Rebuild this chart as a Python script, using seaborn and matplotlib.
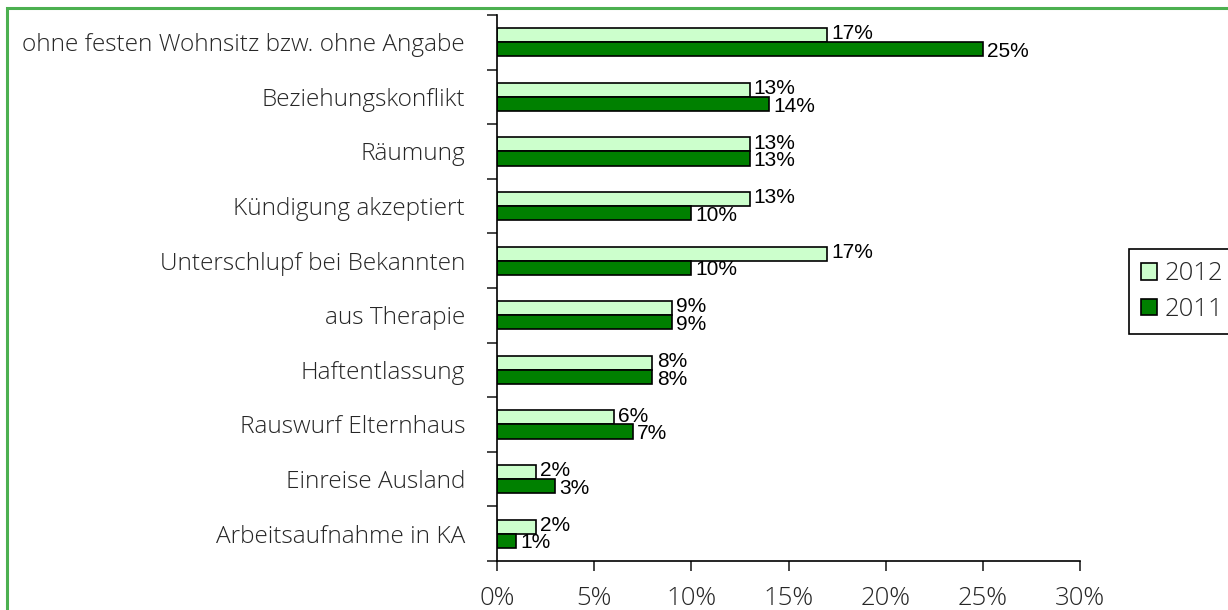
import numpy as np
import pandas as pd
import matplotlib.pyplot as plt
import seaborn as sns
from matplotlib.patches import Rectangle, Patch

# =====================
# Data (values in %)
# =====================
categories = [
    "ohne festen Wohnsitz bzw. ohne Angabe",
    "Beziehungskonflikt",
    "Räumung",
    "Kündigung akzeptiert",
    "Unterschlupf bei Bekannten",
    "aus Therapie",
    "Haftentlassung",
    "Rauswurf Elternhaus",
    "Einreise Ausland",
    "Arbeitsaufnahme in KA",
]
values_2012 = [17, 13, 13, 13, 17, 9, 8, 6, 2, 2]
values_2011 = [25, 14, 13, 10, 10, 9, 8, 7, 3, 1]
years = ["2012", "2011"]
x_ticks = [0, 5, 10, 15, 20, 25, 30]

colors = {"2012": "#CCFFCC", "2011": "#008000"}

df = pd.DataFrame({
    "Kategorie": categories * 2,
    "Jahr": ["2012"] * len(categories) + ["2011"] * len(categories),
    "Wert": values_2012 + values_2011,
})

sns.set_style("white")
plt.rcParams["font.family"] = ["Open Sans", "DejaVu Sans"]
plt.rcParams["font.weight"] = 300

fig = plt.figure(figsize=(12.28, 6.1), dpi=100)
ax = fig.add_axes([497 / 1228, 1 - 561 / 610, 583 / 1228, 546 / 610])

sns.barplot(data=df, y="Kategorie", x="Wert", hue="Jahr", hue_order=years,
            order=categories, orient="h", width=0.52, gap=0,
            palette=colors, edgecolor="black", linewidth=1.2,
            saturation=1, ax=ax)

# data labels next to each bar end (2012 nudged up, 2011 nudged down)
for cont, dy in zip(ax.containers, [1, -1.5]):
    for bar in cont:
        w = bar.get_width()
        yc = bar.get_y() + bar.get_height() / 2
        ax.annotate(f"{w:.0f}%", xy=(w, yc), xytext=(3, dy),
                    textcoords="offset points", ha="left", va="center",
                    fontsize=15, family="Liberation Sans", weight="normal",
                    color="black")

ax.set_xlim(0, 30)
ax.set_ylim(len(categories) - 0.5, -0.5)
ax.set_xticks(x_ticks)
ax.set_xticklabels([f"{t}%" for t in x_ticks])
ax.set_yticks(range(len(categories)))
ax.set_yticklabels(categories)
ax.set_yticks(np.arange(-0.5, len(categories)), minor=True)
ax.tick_params(axis="y", which="major", length=0, pad=23, labelsize=17.6)
ax.tick_params(axis="y", which="minor", length=7, width=1.2, direction="out", left=True)
ax.tick_params(axis="x", length=7, width=1.2, direction="out", bottom=True,
               pad=11, labelsize=18.5)
ax.set_xlabel("")
ax.set_ylabel("")

sns.despine(ax=ax, top=True, right=True)
for side in ["left", "bottom"]:
    ax.spines[side].set_color("black")
    ax.spines[side].set_linewidth(1.2)

# legend (frame runs past the right edge, as in the original crop)
ax.get_legend().remove()
handles = [Patch(facecolor=colors[y], edgecolor="black", linewidth=1.2) for y in years]
leg = fig.legend(handles, years, loc="upper left", mode="expand",
                 bbox_to_anchor=(1129 / 1228, 0, 0.1, 1 - 249 / 610),
                 fontsize=18.5, handlelength=0.62, handleheight=0.62,
                 handletextpad=0.3, labelspacing=0.42, borderpad=0.48,
                 borderaxespad=0, fancybox=False, framealpha=1)
leg.get_frame().set_edgecolor("black")
leg.get_frame().set_linewidth(1.2)

# green outer border (cropped on right/bottom)
fig.add_artist(Rectangle((7 / 1228, -0.1), 1.2, 1 - 8 / 610 + 0.1,
                         transform=fig.transFigure, fill=False,
                         edgecolor="#4CB050", linewidth=2.2, clip_on=False))

plt.savefig("out.png", dpi=100)
plt.close()
